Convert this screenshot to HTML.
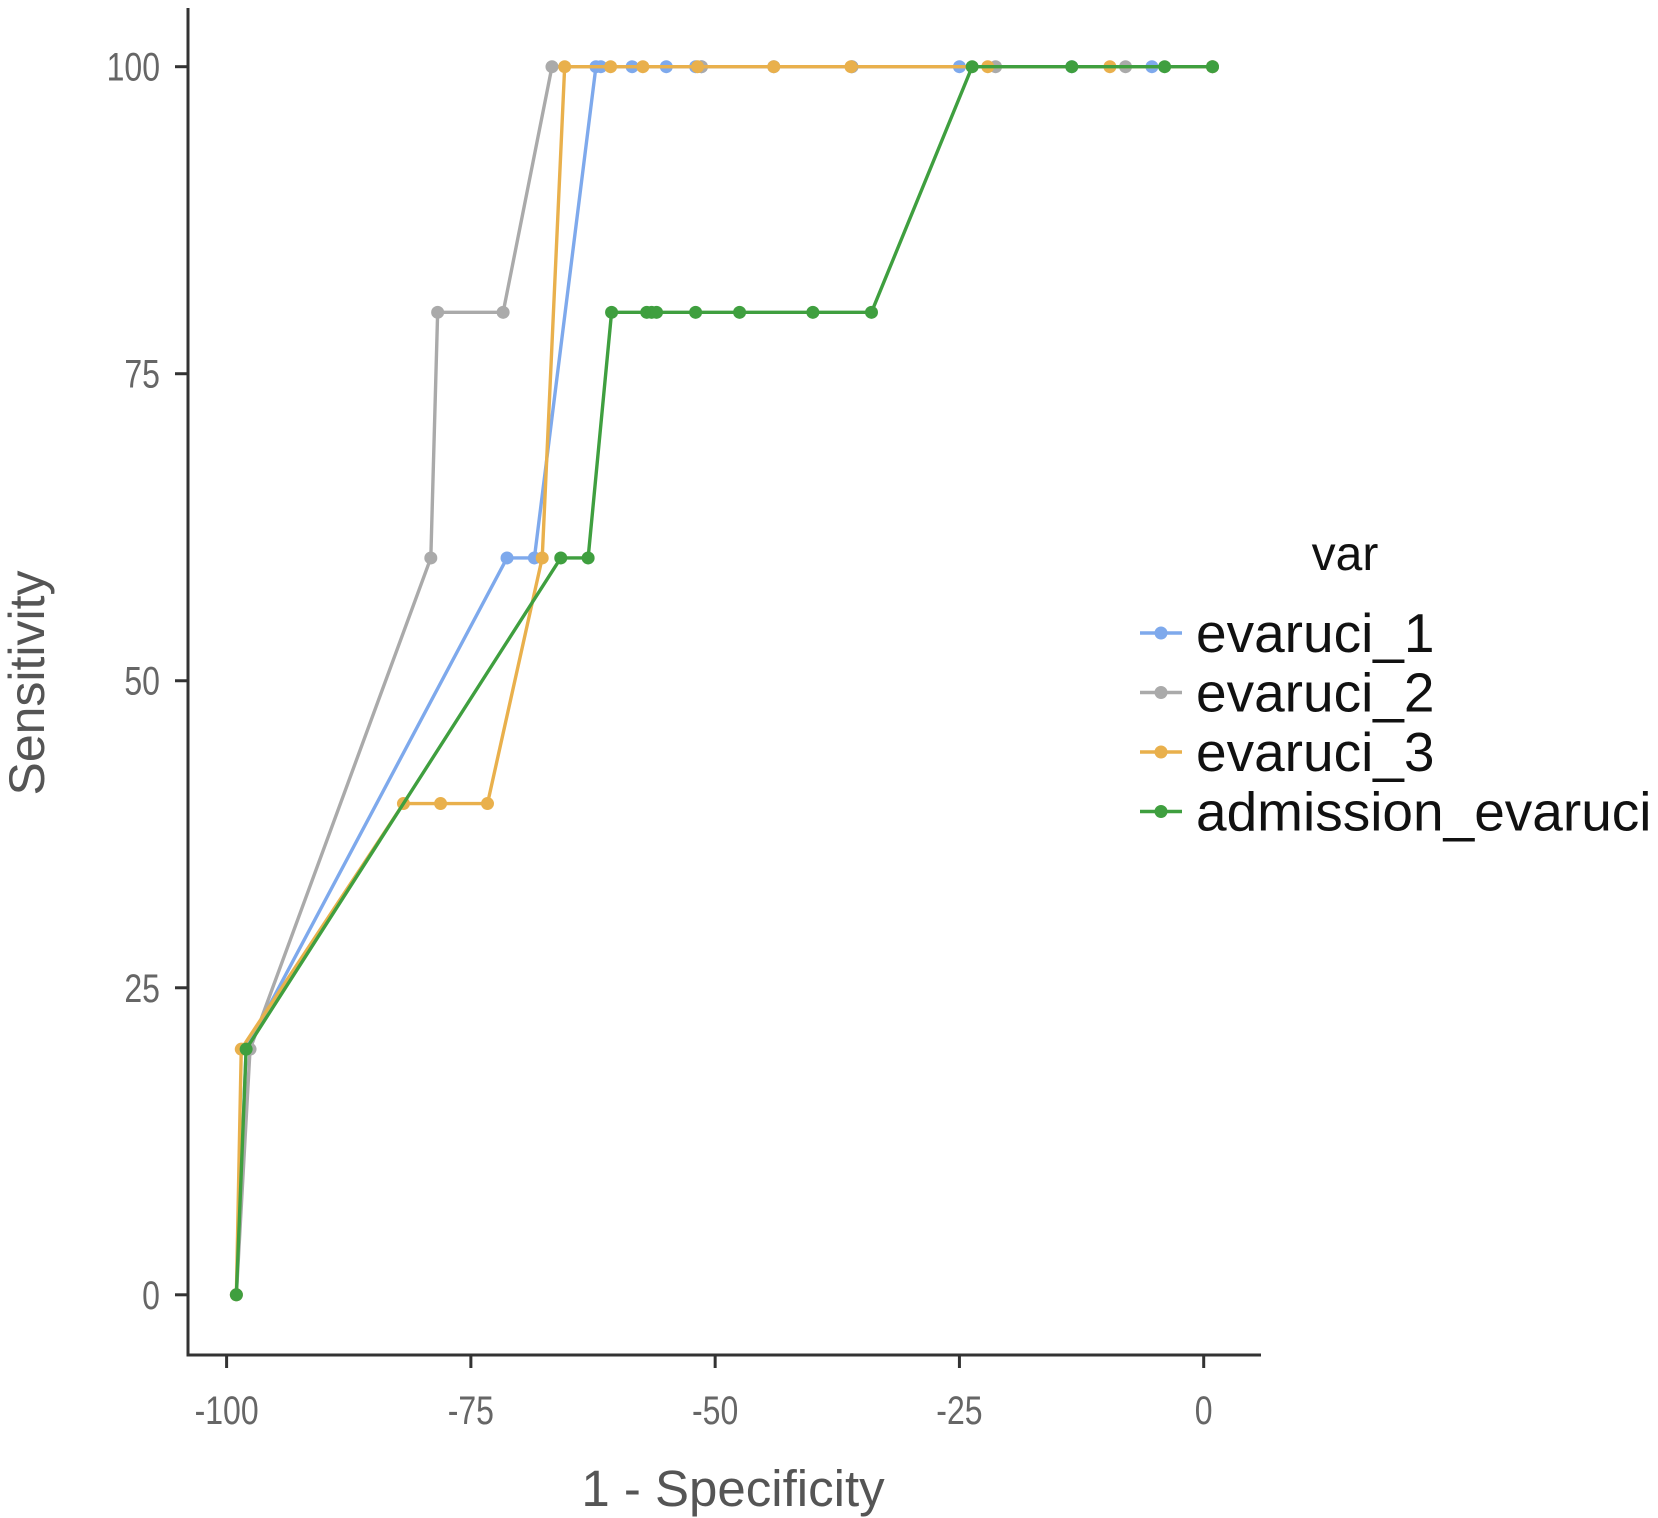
<!DOCTYPE html>
<html><head><meta charset="utf-8"><style>
html,body{margin:0;padding:0;background:#fff;}
svg{display:block;font-family:"Liberation Sans",sans-serif;}
</style></head><body>
<svg id="chart" width="1658" height="1518" viewBox="0 0 1658 1518" xmlns="http://www.w3.org/2000/svg">
<g id="axes"></g>
<g id="series"></g>
<g id="legend"></g>
</svg>
<script>
const xTicks = [-100, -75, -50, -25, 0];
const yTicks = [0, 25, 50, 75, 100];
const seriesNames = ["evaruci_1", "evaruci_2", "evaruci_3", "admission_evaruci"];
const evaruci1X = [-99, -98, -71.3, -68.5, -62.2, -61.7, -58.5, -55, -52, -51.4, -44, -36, -25, -13.5, -5.3, 0.9];
const evaruci1Y = [0, 20, 60, 60, 100, 100, 100, 100, 100, 100, 100, 100, 100, 100, 100, 100];
const evaruci2X = [-99, -97.6, -79.1, -78.4, -71.7, -66.7, -51.4, -36, -21.3, -8, 0.9];
const evaruci2Y = [0, 20, 60, 80, 80, 100, 100, 100, 100, 100, 100];
const evaruci3X = [-99, -98.5, -81.9, -78.1, -73.3, -67.7, -65.4, -60.7, -57.4, -51.8, -44, -36.1, -22.1, -9.6, 0.9];
const evaruci3Y = [0, 20, 40, 40, 40, 60, 100, 100, 100, 100, 100, 100, 100, 100, 100];
const admissionX = [-99, -98, -65.8, -63, -60.6, -57, -56.5, -56, -52, -47.5, -40, -34, -23.7, -13.5, -4, 0.9];
const admissionY = [0, 20, 60, 60, 80, 80, 80, 80, 80, 80, 80, 80, 100, 100, 100, 100];

const NS = "http://www.w3.org/2000/svg";
const sx = v => 1203.7 + (v) * 9.771;
const sy = v => 1294.8 - v * 12.281;
function mk(tag, attrs, parent) {
  const e = document.createElementNS(NS, tag);
  for (const k in attrs) e.setAttribute(k, attrs[k]);
  parent.appendChild(e);
  return e;
}
const axes = document.getElementById('axes');
const yl = mk('line', {x1:188, y1:8, x2:188, y2:1355, stroke:'#333', 'stroke-width':3}, axes);


const xl = mk('line', {x1:186.5, y1:1355, x2:1261, y2:1355, stroke:'#333', 'stroke-width':3}, axes);


xTicks.forEach(t => {
  const tk = mk('line', {x1:sx(t), y1:1355, x2:sx(t), y2:1368, stroke:'#333', 'stroke-width':3}, axes);
  
  
  const tx = mk('text', {x:sx(t), y:1424, 'text-anchor':'middle', 'font-size':40, fill:'#666', transform:`translate(${sx(t)},0) scale(0.8,1) translate(${-sx(t)},0)`}, axes);
  tx.textContent = t;
  
  
});
yTicks.forEach(t => {
  const tk = mk('line', {x1:175, y1:sy(t), x2:188, y2:sy(t), stroke:'#333', 'stroke-width':3}, axes);
  
  
  const tx = mk('text', {x:160, y:sy(t)+14, 'text-anchor':'end', 'font-size':40, fill:'#666', transform:`translate(160,0) scale(0.8,1) translate(-160,0)`}, axes);
  tx.textContent = t;
  
  
});
const xt = mk('text', {x:733, y:1506, 'text-anchor':'middle', 'font-size':51, fill:'#555'}, axes);
xt.textContent = '1 - Specificity';


const yt = mk('text', {x:0, y:0, 'text-anchor':'middle', 'font-size':50, fill:'#555', transform:'translate(44,683) rotate(-90)'}, axes);
yt.textContent = 'Sensitivity';



const colors = ['#7ea9ec', '#aaaaaa', '#e9b04c', '#3f9f3f'];
const xs = [evaruci1X, evaruci2X, evaruci3X, admissionX];
const ys = [evaruci1Y, evaruci2Y, evaruci3Y, admissionY];
const sg = document.getElementById('series');
seriesNames.forEach((name, i) => {
  const g = mk('g', {}, sg);
  
  
  const pts = xs[i].map((x, j) => sx(x) + ',' + sy(ys[i][j])).join(' ');
  const pl = mk('polyline', {points:pts, fill:'none', stroke:colors[i], 'stroke-width':3.4}, g);
  
  
  xs[i].forEach((x, j) => {
    const c = mk('circle', {cx:sx(x), cy:sy(ys[i][j]), r:6.5, fill:colors[i]}, g);
    
    
  });
});

const lg = document.getElementById('legend');
const lt = mk('text', {x:1345, y:570, 'text-anchor':'middle', 'font-size':48, fill:'#111'}, lg);
lt.textContent = 'var';


seriesNames.forEach((name, i) => {
  const yy = 633 + i * 59.5;
  const g = mk('g', {}, lg);
  
  
  mk('line', {x1:1140, y1:yy, x2:1182, y2:yy, stroke:colors[i], 'stroke-width':3.4}, g);
  mk('circle', {cx:1161, cy:yy, r:6.5, fill:colors[i]}, g);
  const t = mk('text', {x:1196, y:yy + 19, 'font-size':55, fill:'#111'}, g);
  t.textContent = name;
  
  
});
</script>
</body></html>
